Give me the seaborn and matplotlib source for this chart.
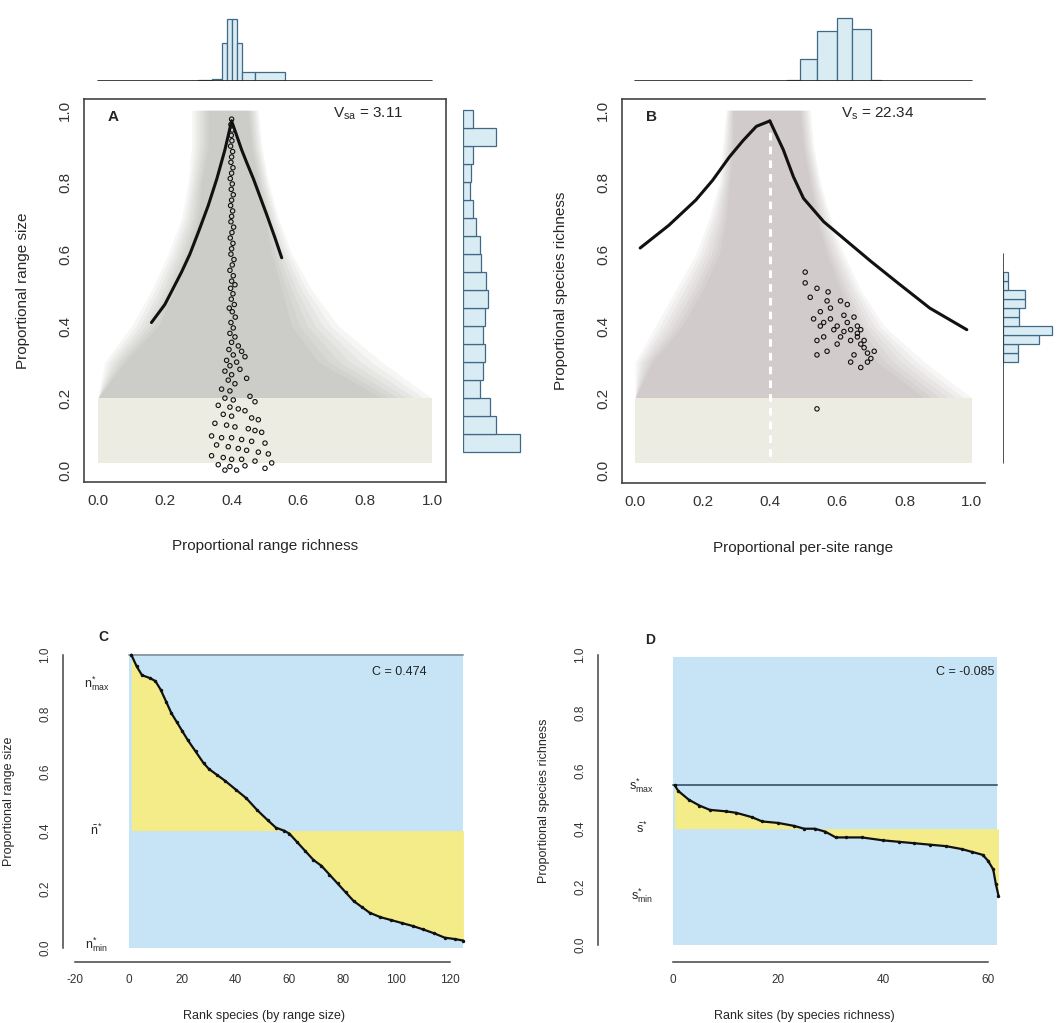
import numpy as np
import pandas as pd
import matplotlib
matplotlib.use("Agg")
import matplotlib.pyplot as plt
import seaborn as sns

# ---------------- data ----------------
# panel A: range richness vs range size (one point per species)
a_x = [0.400, 0.398, 0.402, 0.399, 0.401, 0.397, 0.403, 0.400, 0.398, 0.404, 0.400, 0.396, 0.402,
       0.399, 0.405, 0.400, 0.397, 0.403, 0.400, 0.398, 0.406, 0.401, 0.396, 0.404, 0.400, 0.398,
       0.407, 0.402, 0.395, 0.405, 0.400, 0.410, 0.397, 0.404, 0.399, 0.408, 0.393, 0.402, 0.411,
       0.398, 0.405, 0.395, 0.410, 0.400, 0.420, 0.392, 0.430, 0.405, 0.440, 0.385, 0.415, 0.395,
       0.425, 0.380, 0.400, 0.445, 0.390, 0.410,
       0.370, 0.395, 0.455, 0.380, 0.405, 0.470, 0.360, 0.395, 0.420, 0.440, 0.375, 0.400, 0.460,
       0.480, 0.350, 0.385, 0.410, 0.450, 0.470, 0.490, 0.340, 0.370, 0.400, 0.430, 0.460, 0.500,
       0.355, 0.390, 0.420, 0.445, 0.480, 0.510, 0.340, 0.375, 0.400, 0.430, 0.470, 0.520, 0.360,
       0.395, 0.440, 0.500, 0.380, 0.415]
a_y = [0.975, 0.960, 0.945, 0.930, 0.915, 0.900, 0.885, 0.870, 0.855, 0.840, 0.825, 0.810, 0.795,
       0.780, 0.765, 0.750, 0.735, 0.720, 0.705, 0.690, 0.675, 0.660, 0.645, 0.630, 0.615, 0.600,
       0.585, 0.570, 0.555, 0.540, 0.525, 0.515, 0.505, 0.490, 0.475, 0.460, 0.450, 0.440, 0.425,
       0.410, 0.395, 0.380, 0.370, 0.355, 0.345, 0.335, 0.330, 0.320, 0.315, 0.305, 0.300, 0.290,
       0.280, 0.275, 0.265, 0.255, 0.250, 0.240,
       0.225, 0.220, 0.205, 0.200, 0.195, 0.190, 0.180, 0.175, 0.170, 0.165, 0.155, 0.150, 0.145,
       0.140, 0.130, 0.125, 0.120, 0.115, 0.110, 0.105, 0.095, 0.090, 0.090, 0.085, 0.080, 0.075,
       0.070, 0.065, 0.060, 0.055, 0.050, 0.045, 0.040, 0.035, 0.030, 0.030, 0.025, 0.020, 0.015,
       0.010, 0.012, 0.005, 0.000, 0.000]
a_left_x = [0.16, 0.18, 0.20, 0.225, 0.25, 0.275, 0.30, 0.33, 0.356, 0.38, 0.40]
a_left_y = [0.41, 0.435, 0.46, 0.505, 0.55, 0.60, 0.66, 0.735, 0.81, 0.89, 0.97]
a_right_x = [0.40, 0.415, 0.43, 0.445, 0.465, 0.485, 0.505, 0.53, 0.55]
a_right_y = [0.97, 0.93, 0.89, 0.855, 0.81, 0.76, 0.71, 0.645, 0.59]
a_top_edges = [0.30, 0.34, 0.37, 0.385, 0.40, 0.415, 0.43, 0.47, 0.56]
a_top_counts = [1, 2, 38, 62, 62, 38, 9, 9]
a_right_edges = [0.05, 0.10, 0.15, 0.20, 0.25, 0.30, 0.35, 0.40, 0.45, 0.50, 0.55,
                 0.60, 0.65, 0.70, 0.75, 0.80, 0.85, 0.90, 0.95, 1.00]
a_right_counts = [57, 33, 27, 17, 20, 22, 20, 22, 25, 23, 18, 17, 13, 10, 7, 8, 10, 33, 10]
# simulated null envelope (gray funnel)
a_fun_y = [1.0, 0.9, 0.8, 0.7, 0.6, 0.5, 0.4, 0.3, 0.2]
a_out_l = [0.28, 0.28, 0.27, 0.25, 0.21, 0.16, 0.10, 0.02, 0.00]
a_out_r = [0.48, 0.49, 0.51, 0.54, 0.58, 0.64, 0.72, 0.85, 1.00]
a_in_l = [0.33, 0.33, 0.31, 0.30, 0.27, 0.23, 0.18, 0.08, 0.00]
a_in_r = [0.45, 0.46, 0.48, 0.50, 0.52, 0.55, 0.58, 0.66, 0.85]

# panel B: per-site range vs species richness (one point per site)
b_x = [0.505, 0.505, 0.540, 0.573, 0.610, 0.630, 0.550, 0.580, 0.650, 0.660, 0.550, 0.590, 0.620,
       0.660, 0.680, 0.540, 0.570, 0.540, 0.650, 0.690, 0.710, 0.670, 0.540, 0.600, 0.630, 0.640,
       0.660, 0.670, 0.610, 0.640, 0.580, 0.560, 0.620, 0.670, 0.680, 0.700, 0.640, 0.690, 0.570,
       0.520, 0.530, 0.560, 0.600]
b_y = [0.550, 0.520, 0.505, 0.495, 0.470, 0.460, 0.440, 0.450, 0.425, 0.400, 0.400, 0.390, 0.385,
       0.370, 0.360, 0.360, 0.330, 0.320, 0.320, 0.325, 0.330, 0.285, 0.170, 0.400, 0.410, 0.390,
       0.380, 0.390, 0.370, 0.360, 0.420, 0.410, 0.430, 0.350, 0.340, 0.310, 0.300, 0.300, 0.470,
       0.480, 0.420, 0.370, 0.350]
b_left_x = [0.015, 0.10, 0.18, 0.23, 0.28, 0.32, 0.36, 0.40]
b_left_y = [0.617, 0.68, 0.75, 0.805, 0.87, 0.915, 0.955, 0.97]
b_right_x = [0.40, 0.42, 0.44, 0.47, 0.50, 0.56, 0.63, 0.70, 0.78, 0.875, 0.985]
b_right_y = [0.97, 0.93, 0.89, 0.815, 0.755, 0.69, 0.635, 0.58, 0.52, 0.45, 0.39]
b_null_x = 0.4
b_top_edges = [0.45, 0.49, 0.54, 0.60, 0.645, 0.70, 0.73]
b_top_counts = [1, 22, 50, 63, 52, 1]
b_right_edges = [0.300, 0.325, 0.350, 0.375, 0.400, 0.425, 0.450, 0.475, 0.500, 0.525, 0.550]
b_right_counts = [19, 19, 45, 60, 20, 20, 27, 27, 6, 6]
b_fun_y = [1.0, 0.9, 0.8, 0.7, 0.6, 0.5, 0.4, 0.3, 0.2]
b_out_l = [0.27, 0.26, 0.25, 0.22, 0.18, 0.12, 0.06, 0.00, 0.00]
b_out_r = [0.52, 0.53, 0.55, 0.58, 0.62, 0.67, 0.74, 0.86, 1.00]
b_in_l = [0.29, 0.29, 0.28, 0.27, 0.25, 0.20, 0.14, 0.05, 0.00]
b_in_r = [0.49, 0.50, 0.52, 0.54, 0.57, 0.61, 0.65, 0.72, 0.86]

# panel C: ranked range sizes
c_rank = [1, 3, 5, 8, 10, 12, 14, 16, 18, 20, 22, 25, 28, 30, 33, 36, 40, 44, 48, 52, 55, 58,
          60, 63, 66, 69, 72, 75, 78, 81, 84, 87, 90, 94, 98, 102, 106, 110, 114, 118, 122, 125]
c_vals = [1.00, 0.96, 0.93, 0.92, 0.91, 0.88, 0.84, 0.80, 0.77, 0.74, 0.71, 0.67, 0.63, 0.61,
          0.59, 0.57, 0.54, 0.51, 0.47, 0.435, 0.41, 0.40, 0.39, 0.36, 0.33, 0.30, 0.28, 0.25,
          0.22, 0.19, 0.16, 0.14, 0.12, 0.105, 0.095, 0.085, 0.075, 0.063, 0.05, 0.035, 0.03, 0.025]
c_mean, c_max, c_min = 0.4, 1.0, 0.0
c_n = 125

# panel D: ranked species richness
d_rank = [0.3, 1, 3, 5, 7, 10, 12, 15, 17, 20, 23, 25, 27, 29, 31, 33, 36, 40, 43, 46, 49, 52,
          55, 57, 59, 60, 61, 61.5, 62]
d_vals = [0.55, 0.53, 0.50, 0.48, 0.465, 0.46, 0.455, 0.44, 0.425, 0.42, 0.41, 0.40, 0.40, 0.39,
          0.37, 0.37, 0.37, 0.36, 0.355, 0.35, 0.345, 0.34, 0.33, 0.32, 0.31, 0.29, 0.26, 0.21, 0.17]
d_mean, d_max, d_min = 0.4, 0.55, 0.17
d_n = 61.7

# ---------------- style ----------------
sns.set_style("white")
plt.rcParams['font.family'] = ['Liberation Sans', 'DejaVu Sans']
plt.rcParams['mathtext.default'] = 'regular'
plt.rcParams['xtick.direction'] = 'out'
plt.rcParams['ytick.direction'] = 'out'

W, H = 1057, 1023
fig = plt.figure(figsize=(W / 100, H / 100), dpi=100)


def box(l, t, r, b):
    return [l / W, 1 - b / H, (r - l) / W, (b - t) / H]


hist_face = '#d9ebf3'
hist_edge = '#3e6a86'
blue_bg = '#c6e4f5'
yellow = '#f4ec88'


def funnel(ax, fy, ol, orr, il, ir, col):
    # soft-edged envelope: stacked translucent bands from the core outwards
    fy, ol, orr, il, ir = map(np.array, (fy, ol, orr, il, ir))
    for t in np.linspace(0, 1, 7):
        ax.fill_betweenx(fy, il + (ol - il) * t, ir + (orr - ir) * t,
                         color=col, alpha=0.07, lw=0, zorder=1)


def style_main(ax, xlim, ylim, right=True):
    ax.set_xlim(*xlim)
    ax.set_ylim(*ylim)
    ax.set_xticks([0, 0.2, 0.4, 0.6, 0.8, 1.0])
    ax.set_yticks([0, 0.2, 0.4, 0.6, 0.8, 1.0])
    ax.set_xticklabels(['0.0', '0.2', '0.4', '0.6', '0.8', '1.0'], fontsize=11)
    ax.set_yticklabels(['0.0', '0.2', '0.4', '0.6', '0.8', '1.0'], fontsize=11,
                       rotation=90, va='center')
    ax.tick_params(length=5, width=1, colors='#333333')
    for s in ax.spines.values():
        s.set_color('#444444')
        s.set_linewidth(1.2)
    ax.spines['right'].set_visible(right)


def top_hist(ax, edges, counts, xlim, top_px):
    e = np.array(edges)
    centers = (e[:-1] + e[1:]) / 2
    sns.histplot(x=centers, weights=counts, bins=edges, ax=ax, color=hist_face,
                 edgecolor=hist_edge, linewidth=0.9, alpha=1)
    ax.plot([0, 1], [0, 0], color='#222222', lw=1.2)
    ax.set_xlim(*xlim)
    ax.set_ylim(0, max(counts) * 73 / top_px)
    ax.set_axis_off()


def right_hist(ax, edges, counts, ylim, width_scale, baseline=None):
    e = np.array(edges)
    centers = (e[:-1] + e[1:]) / 2
    sns.histplot(y=centers, weights=counts, bins=edges, ax=ax, color=hist_face,
                 edgecolor=hist_edge, linewidth=0.9, alpha=1)
    if baseline is not None:
        ax.plot([0, 0], baseline, color='#333333', lw=1.2)
    ax.set_ylim(*ylim)
    ax.set_xlim(0, max(counts) * width_scale)
    ax.set_axis_off()


# ---------------- panel A ----------------
ax_a = fig.add_axes(box(84, 99, 446, 482))
a_xlim, a_ylim = (-0.042, 1.042), (-0.033, 1.031)
funnel(ax_a, a_fun_y, a_out_l, a_out_r, a_in_l, a_in_r, '#86867c')
ax_a.fill_between([0, 1], [0.02, 0.02], [0.2, 0.2], color='#edece2', lw=0, zorder=1)
sns.scatterplot(x=a_x, y=a_y, ax=ax_a, marker='o', s=10, facecolor='none',
                edgecolor='#111111', linewidth=0.8, zorder=3)
sns.lineplot(x=a_left_x, y=a_left_y, ax=ax_a, color='#111111', lw=2.2, sort=False,
             estimator=None, zorder=4)
sns.lineplot(x=a_right_x, y=a_right_y, ax=ax_a, color='#111111', lw=2.2, sort=False,
             estimator=None, zorder=4)
style_main(ax_a, a_xlim, a_ylim)
ax_a.set_xlabel('Proportional range richness', fontsize=11)
ax_a.set_ylabel('Proportional range size', fontsize=11)
ax_a.xaxis.set_label_coords(0.5, -0.15)
ax_a.yaxis.set_label_coords(-0.15, 0.5)
ax_a.text(0.045, 0.98, 'A', fontsize=11, fontweight='bold', va='center', ha='center')
ax_a.text(0.81, 0.99, r'$V_{sa}$ = 3.11', fontsize=11, va='center', ha='center')

ax_at = fig.add_axes(box(84, 8, 446, 81))
top_hist(ax_at, a_top_edges, a_top_counts, a_xlim, 62)
ax_ar = fig.add_axes(box(463, 99, 540, 482))
right_hist(ax_ar, a_right_edges, a_right_counts, a_ylim, 77 / 57)

# ---------------- panel B ----------------
ax_b = fig.add_axes(box(622, 99, 985, 483))
b_xlim, b_ylim = (-0.039, 1.039), (-0.036, 1.031)
funnel(ax_b, b_fun_y, b_out_l, b_out_r, b_in_l, b_in_r, '#938884')
ax_b.fill_between([0, 1], [0.02, 0.02], [0.2, 0.2], color='#edece2', lw=0, zorder=1)
ax_b.plot([b_null_x, b_null_x], [0.0, 0.95], color='white', lw=2.2,
          linestyle=(0, (2.5, 2)), zorder=2)
sns.scatterplot(x=b_x, y=b_y, ax=ax_b, marker='o', s=10, facecolor='none',
                edgecolor='#111111', linewidth=0.8, zorder=3)
sns.lineplot(x=b_left_x, y=b_left_y, ax=ax_b, color='#111111', lw=2.2, sort=False,
             estimator=None, zorder=4)
sns.lineplot(x=b_right_x, y=b_right_y, ax=ax_b, color='#111111', lw=2.2, sort=False,
             estimator=None, zorder=4)
style_main(ax_b, b_xlim, b_ylim, right=False)
ax_b.set_xlabel('Proportional per-site range', fontsize=11)
ax_b.set_ylabel('Proportional species richness', fontsize=11)
ax_b.xaxis.set_label_coords(0.5, -0.15)
ax_b.yaxis.set_label_coords(-0.15, 0.5)
ax_b.text(0.05, 0.98, 'B', fontsize=11, fontweight='bold', va='center', ha='center')
ax_b.text(0.72, 0.99, r'$V_{s}$ = 22.34', fontsize=11, va='center', ha='center')

ax_bt = fig.add_axes(box(622, 8, 985, 81))
top_hist(ax_bt, b_top_edges, b_top_counts, b_xlim, 63)
ax_br = fig.add_axes(box(1003, 99, 1057, 483))
right_hist(ax_br, b_right_edges, b_right_counts, b_ylim, 60 / 54, baseline=(0.02, 0.6))


# ---------------- panels C and D ----------------
def rank_panel(ax, ranks, vals, n, mean, ymax_line, labels, label_ys, label_x, xlim, ylim,
               xticks, xticklabels, letter, letter_xy, stat, stat_xy, line_col, blue_top):
    ax.fill_between([0, n], [0, 0], [blue_top, blue_top], color=blue_bg, lw=0, zorder=0)
    ax.fill_between(ranks, vals, mean, color=yellow, lw=0, zorder=1)
    ax.plot([0, n], [ymax_line, ymax_line], color=line_col, lw=1.4, zorder=2)
    sns.lineplot(x=ranks, y=vals, ax=ax, color='#111111', lw=1.6, marker='o', markersize=2.5,
                 markeredgewidth=0, sort=False, estimator=None, zorder=3)
    ax.set_xlim(*xlim)
    ax.set_ylim(*ylim)
    ax.set_xticks(xticks)
    ax.set_xticklabels(xticklabels, fontsize=8.5)
    ax.set_yticks([0, 0.2, 0.4, 0.6, 0.8, 1.0])
    ax.set_yticklabels(['0.0', '0.2', '0.4', '0.6', '0.8', '1.0'], fontsize=8.5,
                       rotation=90, va='center')
    ax.tick_params(length=5, width=1, colors='#333333')
    ax.spines['top'].set_visible(False)
    ax.spines['right'].set_visible(False)
    ax.spines['left'].set_bounds(0, 1)
    ax.spines['bottom'].set_bounds(xticks[0], xticks[-1])
    for s in ('left', 'bottom'):
        ax.spines[s].set_color('#444444')
        ax.spines[s].set_linewidth(1.1)
    for lab, ly in zip(labels, label_ys):
        ax.text(label_x, ly, lab, fontsize=9, ha='center', va='center')
    ax.text(*letter_xy, letter, fontsize=10, fontweight='bold', ha='center', va='center')
    ax.text(*stat_xy, stat, fontsize=9, ha='center', va='center', color='#222222')


ax_c = fig.add_axes(box(63, 640, 465, 962))
rank_panel(ax_c, c_rank, c_vals, c_n, c_mean, c_max,
           [r'$n^{*}_{max}$', r'$\bar{n}^{*}$', r'$n^{*}_{min}$'], [0.9, 0.4, 0.01], -12,
           (-24.5, 125.6), (-0.048, 1.05), [-20, 0, 20, 40, 60, 80, 100, 120],
           ['-20', '0', '20', '40', '60', '80', '100', '120'], 'C', (-9.5, 1.06),
           'C = 0.474', (101, 0.94), '#8a9aa8', 1.0)
ax_c.set_xlabel('Rank species (by range size)', fontsize=9)
ax_c.set_ylabel('Proportional range size', fontsize=9)
ax_c.xaxis.set_label_coords(0.5, -0.15)
ax_c.yaxis.set_label_coords(-0.12, 0.5)

ax_d = fig.add_axes(box(598, 640, 1010, 962))
rank_panel(ax_d, d_rank, d_vals, d_n, d_mean, d_max,
           [r'$s^{*}_{max}$', r'$\bar{s}^{*}$', r'$s^{*}_{min}$'], [d_max, d_mean, d_min], -6,
           (-14.3, 64.2), (-0.059, 1.05), [0, 20, 40, 60], ['0', '20', '40', '60'],
           'D', (-4.4, 1.05), 'C = -0.085', (55.6, 0.94), '#4a6678', 0.99)
ax_d.set_xlabel('Rank sites (by species richness)', fontsize=9)
ax_d.set_ylabel('Proportional species richness', fontsize=9)
ax_d.xaxis.set_label_coords(0.5, -0.15)
ax_d.yaxis.set_label_coords(-0.117, 0.5)

fig.savefig('out.png', dpi=100)
